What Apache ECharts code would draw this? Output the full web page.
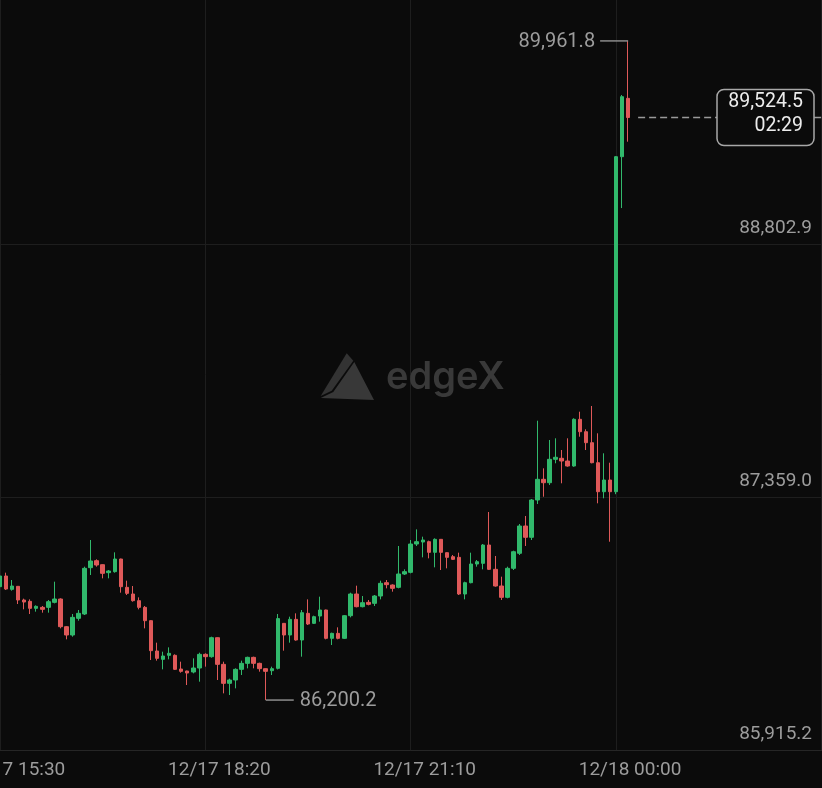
<!DOCTYPE html>
<html><head><meta charset="utf-8">
<script src="https://cdn.jsdelivr.net/npm/echarts@6/dist/echarts.min.js"></script>
<style>html,body{margin:0;padding:0;background:#0b0b0b;}#c{width:822px;height:788px;}</style>
</head><body><div id="c"></div>
<script>
// x tick labels (5-minute candles, index 0 = 12/17 15:30)
const xTickLabels = ['12/17 15:30', '12/17 18:20', '12/17 21:10', '12/18 00:00'];
const xTickIndex = [0, 34, 68, 102];
const yTicks = [85915.2, 87359.0, 88802.9];
const countdown = '02:29';

const opens = [86847.2,86908.1,86832.0,86849.2,86771.2,86763.5,86723.6,86729.3,86729.3,86757.8,
86776.9,86618.9,86571.4,86666.5,86691.3,86955.7,86995.6,86972.8,86927.1,86932.9,
87005.1,86843.4,86805.4,86767.4,86729.3,86653.2,86480.1,86432.5,86455.4,86455.4,
86377.4,86366.0,86360.3,86383.1,86461.1,86447.8,86556.2,86404.0,86295.6,86314.6,
86375.4,86409.7,86443.9,86409.7,86379.3,86367.9,86381.2,86638.0,86571.4,86660.8,
86542.9,86695.1,86638.0,86679.8,86714.1,86552.4,86580.9,86552.4,86681.7,86805.4,
86733.1,86757.8,86752.1,86794.0,86870.1,86856.8,86843.4,86919.5,86929.1,87090.7,
87102.1,87104.0,87043.2,87117.4,87041.3,87018.4,87014.6,86805.4,86870.1,86976.6,
86980.4,87085.0,86946.2,86851.1,86786.4,86952.1,87037.7,87193.5,87129.0,87341.9,
87460.0,87440.6,87574.1,87579.9,87564.4,87535.9,87802.4,87731.6,87668.9,87554.7,
87389.2,87456.0,87389.2,89301.1,89634.0];
const closes = [86908.1,86833.9,86851.1,86771.2,86759.7,86723.6,86735.0,86717.9,86761.6,86776.9,
86618.9,86571.4,86672.2,86695.1,86951.9,86993.7,86970.9,86923.3,86936.7,87005.1,
86847.2,86809.2,86767.4,86729.3,86653.2,86482.0,86438.2,86451.6,86466.8,86375.4,
86364.1,86354.5,86383.1,86461.1,86447.8,86556.2,86404.0,86295.6,86314.6,86375.4,
86409.7,86443.9,86409.7,86379.3,86364.1,86379.3,86665.0,86571.4,86660.8,86542.9,
86698.9,86634.2,86676.0,86714.1,86552.4,86580.9,86552.4,86681.7,86805.4,86733.1,
86755.9,86746.4,86794.0,86866.3,86858.7,86837.7,86919.5,86932.9,87090.7,87104.0,
87113.6,87043.2,87117.4,87043.2,87014.6,87003.2,86805.4,86870.1,86976.6,86989.9,
87085.0,86946.2,86851.1,86786.4,86951.9,87046.8,87193.5,87129.0,87341.9,87460.0,
87440.6,87574.1,87585.6,87564.4,87535.9,87802.4,87731.6,87668.9,87554.7,87389.2,
87456.0,87389.2,89301.1,89643.5,89524.5];
const lows = [86794.0,86828.2,86824.4,86748.3,86717.9,86691.3,86704.6,86698.9,86698.9,86752.1,
86609.4,86546.7,86561.9,86653.2,86685.6,86913.8,86961.4,86894.8,86894.8,86927.1,
86813.0,86799.7,86761.6,86717.9,86609.4,86428.7,86424.9,86375.4,86432.5,86371.7,
86356.4,86286.1,86352.6,86305.1,86390.7,86442.0,86314.6,86238.5,86229.0,86267.0,
86343.1,86381.2,86381.2,86362.2,86200.2,86343.1,86375.0,86482.0,86527.7,86539.1,
86447.8,86628.5,86634.2,86647.5,86546.7,86514.3,86546.7,86548.6,86672.2,86729.3,
86729.3,86740.7,86736.9,86774.9,86837.7,86818.7,86837.7,86913.8,86923.3,87079.3,
87014.6,87008.9,86957.6,86942.4,86951.9,86999.4,86799.7,86774.9,86866.3,86961.4,
86946.2,86942.4,86847.2,86771.2,86780.7,86942.4,87028.0,87079.4,87113.6,87319.1,
87360.7,87427.5,87551.3,87437.2,87531.9,87531.9,87703.1,87627.2,87551.3,87323.0,
87351.6,87103.9,87375.0,89008.0,89386.7];
const highs = [86932.9,86927.2,86885.3,86849.2,86778.8,86774.9,86740.7,86736.9,86771.2,86875.8,
86780.7,86622.8,86691.3,86714.1,86961.4,87113.6,87003.2,86974.7,86942.4,87043.2,
87007.0,86881.5,86851.1,86786.4,86736.9,86655.1,86527.7,86476.3,86501.0,86461.1,
86419.2,86367.9,86438.2,86470.6,86466.8,86561.9,86558.1,86419.2,86322.2,86381.2,
86424.9,86447.8,86447.8,86413.5,86381.2,86390.7,86691.3,86640.0,86676.0,86695.1,
86714.1,86774.9,86681.7,86790.2,86716.0,86584.7,86615.2,86685.6,86813.0,86852.9,
86794.0,86771.2,86799.7,86881.5,86885.3,86860.6,87079.3,86946.2,87113.6,87174.4,
87132.6,87109.8,87123.1,87119.3,87043.2,87028.0,87041.3,86875.8,87041.3,86999.4,
87090.7,87273.4,87022.3,86904.3,86961.4,87052.6,87204.9,87250.6,87347.6,87794.4,
87522.8,87684.3,87694.0,87627.2,87694.0,87808.1,87845.8,87745.3,87878.3,87722.5,
87608.4,87554.7,89305.0,89653.0,89961.8];

const UP = '#31b96c', DOWN = '#df5959';
const FONT = 'Roboto';
const fmt = v => v.toLocaleString('en-US', {minimumFractionDigits: 1, maximumFractionDigits: 1});

const chart = echarts.init(document.getElementById('c'), null, {renderer: 'canvas'});
chart.setOption({
  backgroundColor: '#0b0b0b',
  animation: false,
  grid: {left: 0, right: 0, top: -1, bottom: 38, containLabel: false, outerBoundsMode: 'none'},
  xAxis: {
    type: 'value', min: 0, max: 136.1, interval: 34,
    axisLine: {show: true, lineStyle: {color: '#262626', width: 1}},
    axisTick: {show: false},
    splitLine: {show: true, lineStyle: {color: '#1e1e1e', width: 1}},
    axisLabel: {
      color: '#9c9c9c', fontFamily: FONT, fontSize: 19, margin: 11,
      padding: [0, 0, 0, 28], showMaxLabel: false, hideOverlap: false,
      formatter: v => { const k = xTickIndex.indexOf(Math.round(v)); return k >= 0 && Math.abs(v - xTickIndex[k]) < 0.01 ? xTickLabels[k] : ''; }
    }
  },
  yAxis: {
    type: 'value', position: 'right', min: 85915.2, max: 90201, interval: 1443.85,
    axisLine: {show: false}, axisTick: {show: false},
    splitLine: {show: true, lineStyle: {color: '#1e1e1e', width: 1}},
    axisLabel: {
      inside: true, margin: 10, showMaxLabel: false,
      formatter: v => { const t = yTicks.find(t => Math.abs(t - v) < 1); return t !== undefined ? '{a|' + fmt(t) + '}' : ''; },
      rich: {a: {color: '#9c9c9c', fontFamily: FONT, fontSize: 19, lineHeight: 22, padding: [0, 0, 31, 0]}}
    }
  },
  series: [{
    type: 'candlestick',
    dimensions: ['idx', 'open', 'close', 'lowest', 'highest'],
    encode: {x: 0, y: [1, 2, 3, 4]},
    data: opens.map((o, i) => [i, o, closes[i], lows[i], highs[i]]),
    barWidth: 4,
    itemStyle: {color: UP, color0: DOWN, borderColor: UP, borderColor0: DOWN, borderWidth: 1},
    z: 3
  }]
});

// annotations positioned through the chart's own scales
const last = opens.length - 1;
let maxI = 0, minI = 0;
highs.forEach((h, i) => { if (h > highs[maxI]) maxI = i; });
lows.forEach((l, i) => { if (l < lows[minI]) minI = i; });
const pMax = chart.convertToPixel({xAxisIndex: 0, yAxisIndex: 0}, [maxI, highs[maxI]]);
const pMin = chart.convertToPixel({xAxisIndex: 0, yAxisIndex: 0}, [minI, lows[minI]]);
const pLast = chart.convertToPixel({xAxisIndex: 0, yAxisIndex: 0}, [last, closes[last]]);
const W = 822;
const boxL = 717, boxR = 814;

chart.setOption({
  graphic: [
    // watermark
    {type: 'polygon', z: 1, silent: true, shape: {points: [[346.7,353.3],[353.3,360.7],[331.7,390.7],[320.7,396]]}, style: {fill: '#333333'}},
    {type: 'polygon', z: 1, silent: true, shape: {points: [[354.3,362],[374,400],[320.7,398],[333.3,392]]}, style: {fill: '#383838'}},
    {type: 'text', z: 1, silent: true, x: 386, y: 378, style: {text: 'edgeX', fill: '#393939', font: '600 38px Inter', verticalAlign: 'middle', align: 'left'}},
    // max label
    {type: 'line', z: 10, shape: {x1: pMax[0] - 28, y1: pMax[1], x2: pMax[0], y2: pMax[1]}, style: {stroke: '#8c8c8c', lineWidth: 1.5}},
    {type: 'text', z: 10, x: pMax[0] - 33, y: pMax[1] + 1, style: {text: fmt(highs[maxI]), fill: '#9c9c9c', font: '20px Roboto', align: 'right', verticalAlign: 'middle'}},
    // min label
    {type: 'line', z: 10, shape: {x1: pMin[0], y1: pMin[1], x2: pMin[0] + 28, y2: pMin[1]}, style: {stroke: '#8c8c8c', lineWidth: 1.5}},
    {type: 'text', z: 10, x: pMin[0] + 34, y: pMin[1] + 1, style: {text: fmt(lows[minI]), fill: '#9c9c9c', font: '20px Roboto', align: 'left', verticalAlign: 'middle'}},
    // current price line + box
    {type: 'line', z: 10, shape: {x1: pLast[0] + 10, y1: pLast[1], x2: W, y2: pLast[1]}, style: {stroke: '#9a9a9a', lineWidth: 1.5, lineDash: [7, 4]}},
    {type: 'rect', z: 11, shape: {x: boxL, y: pLast[1] - 28, width: boxR - boxL, height: 56, r: 7}, style: {fill: '#0b0b0b', stroke: '#a8a8a8', lineWidth: 1.5}},
    {type: 'text', z: 12, x: boxR - 11, y: pLast[1] - 15, style: {text: fmt(closes[last]), fill: '#ececec', font: '19.5px Roboto', align: 'right', verticalAlign: 'middle'}},
    {type: 'text', z: 12, x: boxR - 11, y: pLast[1] + 9, style: {text: countdown, fill: '#ececec', font: '19.5px Roboto', align: 'right', verticalAlign: 'middle'}}
  ]
});
</script>
</body></html>
